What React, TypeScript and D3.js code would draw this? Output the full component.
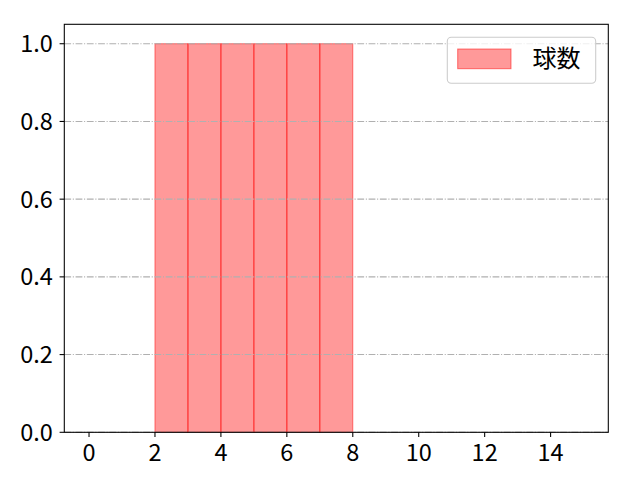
import React from 'react';
import * as d3 from 'd3';

// histogram bins (left edges) and counts
const binStarts = [2, 3, 4, 5, 6, 7];
const counts = [1, 1, 1, 1, 1, 1];
const binWidth = 1;
const xTicks = [0, 2, 4, 6, 8, 10, 12, 14];
const yTicks = [0, 0.2, 0.4, 0.6, 0.8, 1.0];
const legendLabel = '球数';

const width = 640;
const height = 480;
const margin = { top: 24.3, right: 31.7, bottom: 47.7, left: 64.3 };
const font = '"Noto Sans CJK JP", "Noto Sans", sans-serif';

const App: React.FC = () => {
  const x = d3.scaleLinear().domain([-0.75, 15.75]).range([margin.left, width - margin.right]);
  const y = d3.scaleLinear().domain([0, 1.05]).range([height - margin.bottom, margin.top]);

  const x0 = margin.left;
  const x1 = width - margin.right;
  const y0 = height - margin.bottom;
  const y1 = margin.top;

  return (
    <svg width={width} height={height} style={{ position: 'absolute', left: 0, top: 0, background: '#fff' }}>
      {/* bars */}
      {binStarts.map((b, i) => (
        <rect
          key={b}
          x={x(b)}
          y={y(counts[i])}
          width={x(b + binWidth) - x(b)}
          height={y(0) - y(counts[i])}
          fill="rgba(255,0,0,0.4)"
          stroke="rgba(255,0,0,0.5)"
          strokeWidth={1}
        />
      ))}

      {/* grid */}
      {yTicks.map(t => (
        <line
          key={t}
          x1={x0}
          x2={x1}
          y1={y(t)}
          y2={y(t)}
          stroke="#b0b0b0"
          strokeWidth={1.07}
          strokeDasharray="6.8,1.7,1.07,1.7"
        />
      ))}

      {/* frame */}
      <rect x={x0} y={y1} width={x1 - x0} height={y0 - y1} fill="none" stroke="#000" strokeWidth={1.07} />

      {/* x axis */}
      {xTicks.map(t => (
        <g key={t} transform={`translate(${x(t)},${y0})`}>
          <line y2={4.7} stroke="#000" strokeWidth={1.07} />
          <text y={28.5} textAnchor="middle" fontFamily={font} fontSize={23.5} fill="#000">
            {t}
          </text>
        </g>
      ))}

      {/* y axis */}
      {yTicks.map(t => (
        <g key={t} transform={`translate(${x0},${y(t)})`}>
          <line x2={-4.7} stroke="#000" strokeWidth={1.07} />
          <text x={-11.5} y={8.5} textAnchor="end" fontFamily={font} fontSize={23.5} fill="#000">
            {t.toFixed(1)}
          </text>
        </g>
      ))}

      {/* legend */}
      <g>
        <rect x={447.3} y={37.3} width={148.4} height={46} rx={4} fill="rgba(255,255,255,0.8)" stroke="#cccccc" strokeWidth={1.07} />
        <rect x={457.7} y={49} width={53.3} height={19.7} fill="rgba(255,0,0,0.4)" stroke="rgba(255,0,0,0.5)" strokeWidth={1} />
        <text x={532.5} y={66.5} fontFamily={font} fontSize={24} fill="#000">
          {legendLabel}
        </text>
      </g>
    </svg>
  );
};

export default App;
